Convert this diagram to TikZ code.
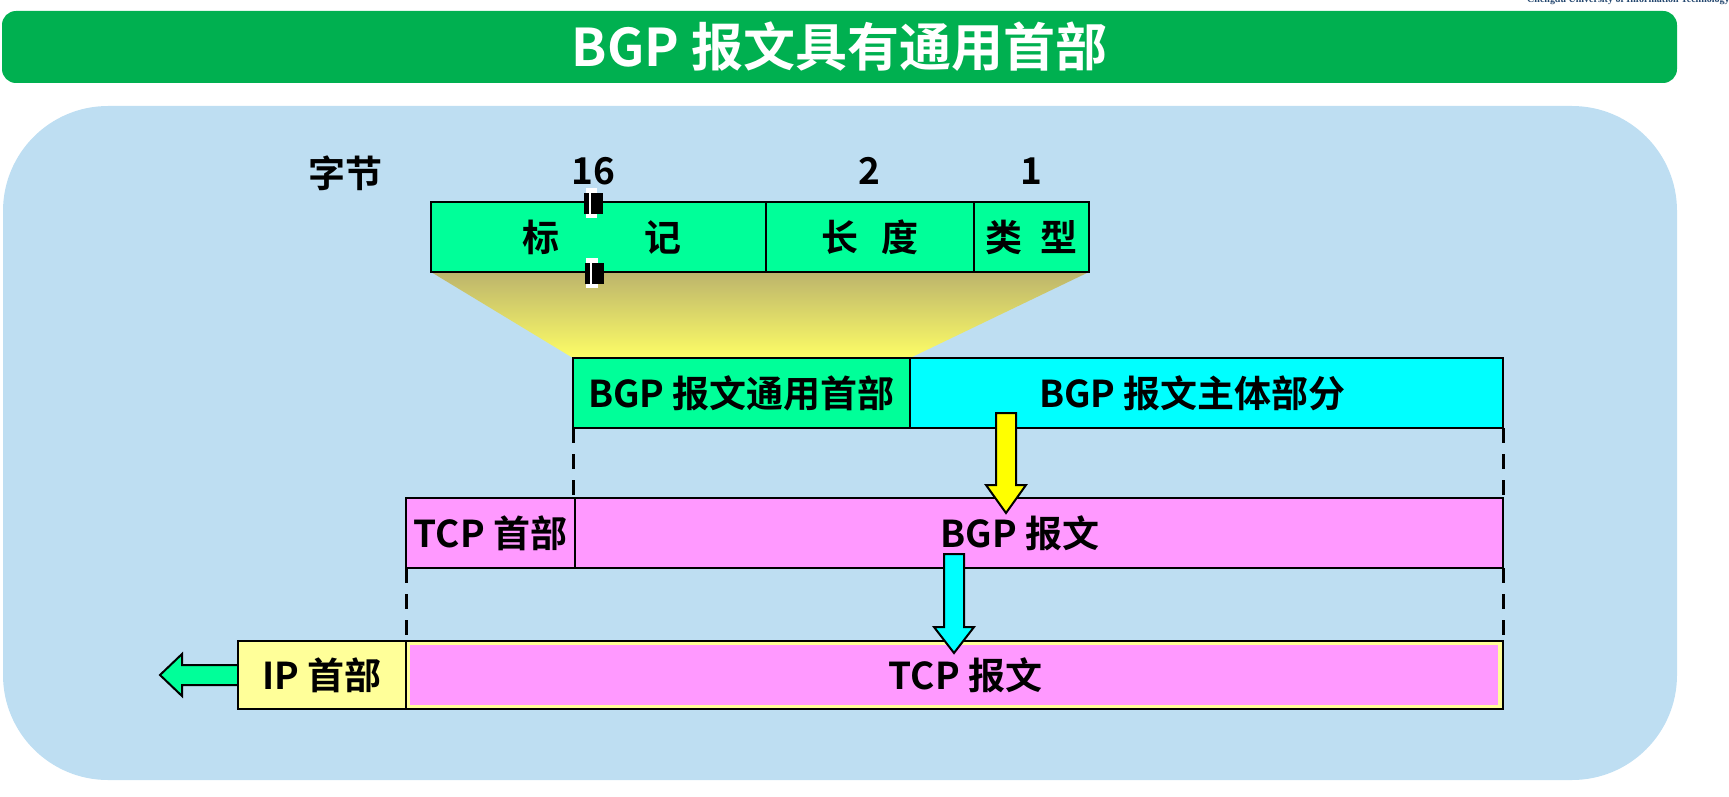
\documentclass[tikz,border=0pt]{standalone}
\usepackage{fontspec}
\setmainfont{Noto Sans CJK SC}[BoldFont={Noto Sans CJK SC Bold}]
\newfontfamily\logofont{Liberation Serif}
\usetikzlibrary{calc}
\pgfdeclarelayer{back}
\pgfdeclarelayer{mid}
\pgfsetlayers{back,mid,main}
\definecolor{titlegreen}{RGB}{0,176,80}
\definecolor{panelblue}{RGB}{190,222,242}
\definecolor{sgreen}{RGB}{0,255,153}
\definecolor{cyanc}{RGB}{0,255,255}
\definecolor{pinkc}{RGB}{255,153,255}
\definecolor{lyellow}{RGB}{255,255,153}
\definecolor{yellowc}{RGB}{255,255,0}
\definecolor{olivec}{RGB}{188,180,108}
\definecolor{tyellow}{RGB}{253,253,102}
\definecolor{logoblue}{RGB}{35,70,110}
\begin{document}
\begin{tikzpicture}[x=1pt,y=-1pt,
  box/.style={draw=black, line width=2.5pt, inner sep=0pt, outer sep=0pt, anchor=north west, font=\fontsize{37}{40}\selectfont\bfseries},
  lbl/.style={inner sep=0pt, font=\fontsize{37}{40}\selectfont\bfseries},
  num/.style={inner sep=0pt, font=\fontsize{37}{40}\selectfont\bfseries},
  cell/.style={box, fill=sgreen, minimum height=70pt, font=\fontsize{37}{40}\selectfont\bfseries},
  rowbox/.style={box, minimum height=70pt},
  dashline/.style={line width=3pt, dash pattern=on 15pt off 11pt},
  blockarrow/.style={draw=black, line width=2pt, line join=miter},
]
\useasboundingbox (0,0) rectangle (1729,797);

\begin{pgfonlayer}{back}
\node[fill=titlegreen, rounded corners=14pt, minimum width=1675pt, minimum height=72pt,
      inner sep=0pt, outer sep=0pt, anchor=north west, text=white,
      font=\fontsize{52}{56}\selectfont\bfseries] (title) at (2,11) {BGP 报文具有通用首部};
\node[fill=panelblue, rounded corners=105pt, minimum width=1674pt, minimum height=674pt,
      inner sep=0pt, outer sep=0pt, anchor=north west] (panel) at (3,106) {};
\end{pgfonlayer}

\begin{scope}
\clip (0,0) rectangle (1729,797);
\node[anchor=base west, inner sep=0pt, text=logoblue, font=\logofont\fontsize{10}{12}\selectfont\bfseries]
  (logo) at (1527,3) {Chengdu University of Information Technology};
\end{scope}

% byte counts
\node[lbl] (bytes) at (345,173) {字节};
\node[num] (n16) at (593,171) {16};
\node[num] (n2) at (869,171) {2};
\node[num] (n1) at (1031,171) {1};

% header fields
\node[cell, minimum width=335pt] (marker) at (431,202) {\hspace{7pt}标\hspace{86pt}记};
\node[cell, minimum width=208pt] (len) at (766,202) {长\hspace{24pt}度};
\node[cell, minimum width=115pt] (type) at (974,202) {类\hspace{18pt}型};

% break marks
\fill[white] (586,188) rectangle (597,218);
\fill[black] (584,193) rectangle (603,214);
\fill[white] (589.3,193) rectangle (590.9,214);
\fill[white] (586,258) rectangle (598,288);
\fill[black] (585,263) rectangle (604,284);
\fill[white] (590.4,263) rectangle (592,284);

% BGP message
\node[rowbox, fill=sgreen, minimum width=337pt] (ghdr) at (573,358) {BGP 报文通用首部};
\node[rowbox, fill=cyanc, minimum width=593pt] (gbody) at (910,358) {BGP 报文主体部分\hspace{28pt}\mbox{}};

\begin{pgfonlayer}{mid}
\shade[top color=olivec, bottom color=tyellow]
  (marker.south west) -- (type.south east) -- (gbody.north west) -- (ghdr.north west) -- cycle;
\end{pgfonlayer}

% TCP segment
\node[rowbox, fill=pinkc, minimum width=169pt] (thdr) at (406,498) {TCP 首部};
\node[rowbox, fill=pinkc, minimum width=928pt] (tbody) at (575,498) {BGP 报文\hspace{38pt}\mbox{}};

% IP datagram
\node[box, fill=lyellow, minimum width=168pt, minimum height=68pt] (iphdr) at (238,641) {IP 首部};
\node[box, fill=lyellow, minimum width=1097pt, minimum height=68pt] (tcpmsg) at (406,641) {};
\fill[pinkc] ($(tcpmsg.north west)+(4,4)$) rectangle ($(tcpmsg.south east)+(-5,-4)$);
\node[lbl] (tcpmsgtxt) at ($(tcpmsg.center)+(11,0)$) {TCP 报文};

% dashed guides
\draw[dashline] (ghdr.south west) -- (ghdr.south west |- tbody.north);
\draw[dashline] (gbody.south east) -- (gbody.south east |- tbody.north);
\draw[dashline] (thdr.south west) -- (thdr.south west |- tcpmsg.north);
\draw[dashline] (tbody.south east) -- (tbody.south east |- tcpmsg.north);

% block arrows
\coordinate (ya) at (1006,413);
\draw[blockarrow, fill=yellowc] ($(ya)+(-10,0)$) -- ++(0,72) -- ++(-10,0) -- ($(ya)+(0,100)$)
  -- ++(20,-28) -- ++(-10,0) -- ++(0,-72) -- cycle;
\coordinate (ca) at (954,554);
\draw[blockarrow, fill=cyanc] ($(ca)+(-10,0)$) -- ++(0,73) -- ++(-10,0) -- ($(ca)+(0,99)$)
  -- ++(20,-26) -- ++(-10,0) -- ++(0,-73) -- cycle;
\begin{pgfonlayer}{mid}
\draw[blockarrow, fill=sgreen] (iphdr.west) ++(0,-10) -- ++(-56,0) -- ++(0,-11) -- ++(-22,21)
  -- ++(22,21) -- ++(0,-11) -- ++(56,0);
\end{pgfonlayer}
\end{tikzpicture}
\end{document}
